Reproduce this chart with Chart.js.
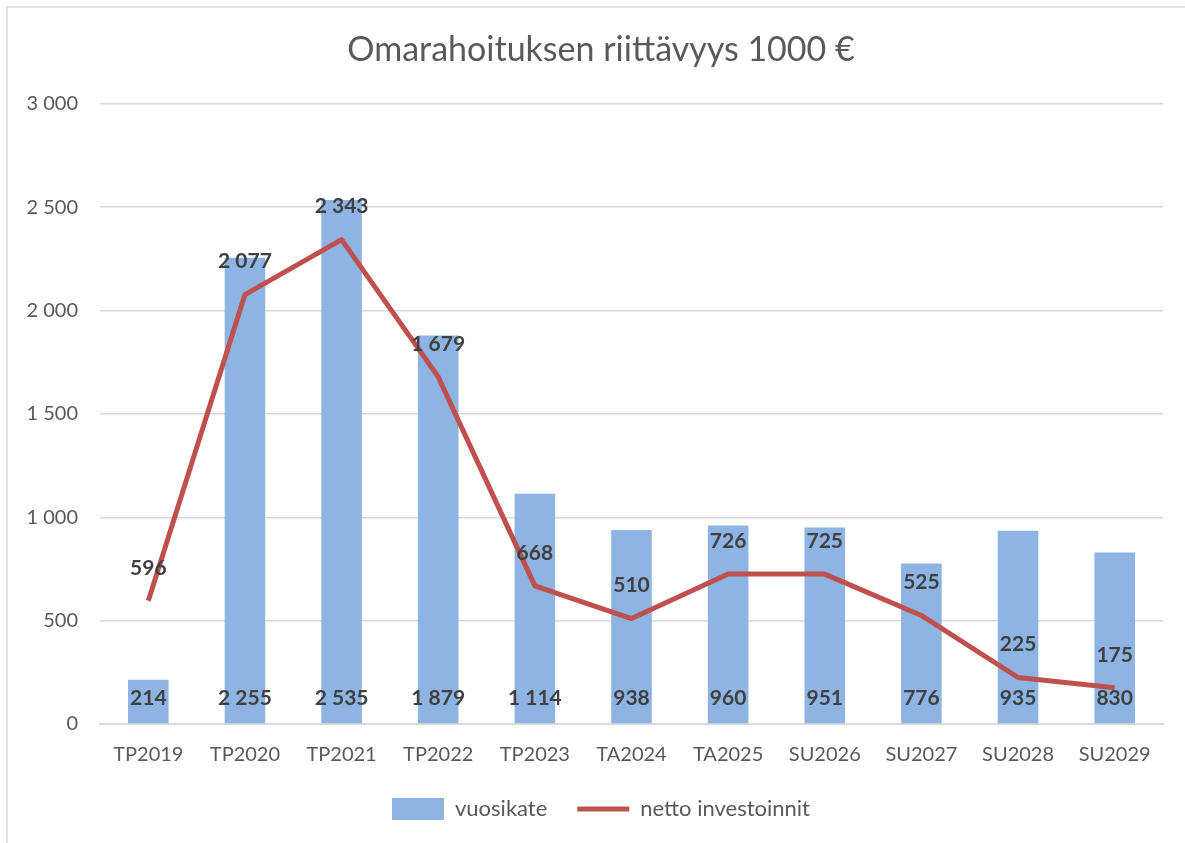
<!DOCTYPE html>
<html>
<head>
<meta charset="utf-8">
<script src="https://cdn.jsdelivr.net/npm/chart.js@4"></script>
<style>
  body { margin: 0; background: #fff; overflow: hidden; }
  #frame { position: absolute; left: 6px; top: 6px; right: 0; bottom: 0; border-top: 2px solid #e3e3e3; border-left: 2px solid #e3e3e3; }
  #myChart { position: absolute; left: 0; top: 0; }
</style>
</head>
<body>
<div id="frame"></div>
<canvas id="myChart" width="1185" height="843"></canvas>
<script>
const categories = ['TP2019', 'TP2020', 'TP2021', 'TP2022', 'TP2023', 'TA2024', 'TA2025', 'SU2026', 'SU2027', 'SU2028', 'SU2029'];
const vuosikate = [214, 2255, 2535, 1879, 1114, 938, 960, 951, 776, 935, 830];
const nettoInvestoinnit = [596, 2077, 2343, 1679, 668, 510, 726, 725, 525, 225, 175];
const yTicks = [0, 500, 1000, 1500, 2000, 2500, 3000];

const FONT = 'Lato, "Open Sans", sans-serif';

function fmt(v) {
  return String(v).replace(/\B(?=(\d{3})+(?!\d))/g, ' ');
}

// draws the value labels (bar labels at the base, line labels above points)
const valueLabels = {
  id: 'valueLabels',
  afterDatasetsDraw(chart) {
    const ctx = chart.ctx;
    ctx.save();
    ctx.font = 'bold 21px ' + FONT;
    ctx.fillStyle = '#404040';
    ctx.textAlign = 'center';
    ctx.textBaseline = 'middle';
    chart.data.datasets.forEach((ds, i) => {
      const meta = chart.getDatasetMeta(i);
      meta.data.forEach((el, j) => {
        if (ds.type === 'bar') {
          ctx.fillText(fmt(ds.data[j]), el.x, el.base - 25);
        } else {
          ctx.fillText(fmt(ds.data[j]), el.x, el.y - 33);
        }
      });
    });
    ctx.restore();
  }
};

const ctx = document.getElementById('myChart').getContext('2d');
const myChart = new Chart(ctx, {
  data: {
    labels: categories,
    datasets: [{
      type: 'bar',
      label: 'vuosikate',
      data: vuosikate,
      backgroundColor: '#8db4e2',
      categoryPercentage: 1,
      barPercentage: 0.42,
      order: 2
    }, {
      type: 'line',
      label: 'netto investoinnit',
      data: nettoInvestoinnit,
      borderColor: '#c0504d',
      backgroundColor: '#c0504d',
      borderWidth: 5,
      pointRadius: 0,
      borderJoinStyle: 'round',
      tension: 0,
      order: 1
    }]
  },
  options: {
    responsive: false,
    animation: false,
    layout: {
      padding: { top: 30, right: 8, bottom: 13, left: 25 }
    },
    scales: {
      x: {
        grid: { display: false },
        border: { color: '#d9d9d9', width: 2 },
        ticks: { color: '#595959', font: { family: FONT, size: 20 }, padding: 11 },
        afterFit(scale) { scale.height = 44; }
      },
      y: {
        min: 0,
        max: 3000,
        afterBuildTicks(scale) { scale.ticks = yTicks.map(v => ({ value: v })); },
        grid: { color: '#d9d9d9', lineWidth: 1.5, drawTicks: false },
        border: { display: false },
        ticks: {
          color: '#595959',
          font: { family: FONT, size: 20 },
          padding: 22,
          callback: v => fmt(v)
        },
        afterFit(scale) { scale.width = 75; }
      },
      // empty spacer on the right so the title and legend sit where they do in the original
      spacer: {
        position: 'right',
        grid: { display: false },
        border: { display: false },
        ticks: { display: false },
        afterFit(scale) { scale.width = 14; }
      }
    },
    plugins: {
      title: {
        display: true,
        text: 'Omarahoituksen riittävyys 1000 €',
        color: '#595959',
        font: { family: FONT, size: 34, weight: 'normal' },
        padding: { top: 0, bottom: 33 }
      },
      legend: {
        position: 'bottom',
        reverse: true,
        labels: {
          color: '#595959',
          font: { family: FONT, size: 22 },
          usePointStyle: true,
          pointStyleWidth: 52,
          padding: 30,
          generateLabels(chart) {
            const items = Chart.defaults.plugins.legend.labels.generateLabels(chart);
            items.forEach(it => {
              const ds = chart.data.datasets[it.datasetIndex];
              it.pointStyle = ds.type === 'bar' ? 'rect' : 'line';
              it.lineWidth = ds.type === 'bar' ? 0 : 5;
            });
            return items;
          }
        }
      },
      tooltip: { enabled: false }
    }
  },
  plugins: [valueLabels]
});
</script>
</body>
</html>
